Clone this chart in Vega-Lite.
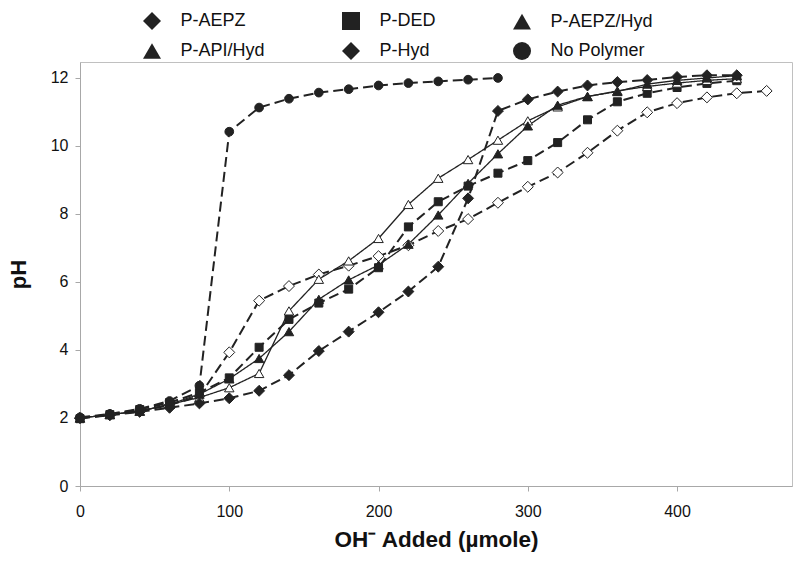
{
  "$schema": "https://vega.github.io/schema/vega-lite/v6.json",
  "width": 712,
  "height": 424,
  "autosize": {"type": "none"},
  "padding": {"left": 80, "top": 62, "right": 8, "bottom": 78},
  "background": "white",
  "config": {
    "font": "Liberation Sans",
    "view": {"stroke": "#c0c0c0", "strokeWidth": 1}
  },
  "datasets": {
    "titration": [
      {"series": "P-AEPZ", "oh": 0, "ph": 2.0}, {"series": "P-AEPZ", "oh": 20, "ph": 2.1}, {"series": "P-AEPZ", "oh": 40, "ph": 2.2}, {"series": "P-AEPZ", "oh": 60, "ph": 2.38}, {"series": "P-AEPZ", "oh": 80, "ph": 2.65}, {"series": "P-AEPZ", "oh": 100, "ph": 3.93}, {"series": "P-AEPZ", "oh": 120, "ph": 5.45}, {"series": "P-AEPZ", "oh": 140, "ph": 5.88}, {"series": "P-AEPZ", "oh": 160, "ph": 6.22}, {"series": "P-AEPZ", "oh": 180, "ph": 6.48}, {"series": "P-AEPZ", "oh": 200, "ph": 6.76}, {"series": "P-AEPZ", "oh": 220, "ph": 7.08}, {"series": "P-AEPZ", "oh": 240, "ph": 7.5}, {"series": "P-AEPZ", "oh": 260, "ph": 7.85}, {"series": "P-AEPZ", "oh": 280, "ph": 8.33}, {"series": "P-AEPZ", "oh": 300, "ph": 8.8}, {"series": "P-AEPZ", "oh": 320, "ph": 9.22}, {"series": "P-AEPZ", "oh": 340, "ph": 9.8}, {"series": "P-AEPZ", "oh": 360, "ph": 10.45}, {"series": "P-AEPZ", "oh": 380, "ph": 10.99}, {"series": "P-AEPZ", "oh": 400, "ph": 11.26}, {"series": "P-AEPZ", "oh": 420, "ph": 11.43}, {"series": "P-AEPZ", "oh": 440, "ph": 11.55}, {"series": "P-AEPZ", "oh": 460, "ph": 11.62},
      {"series": "P-DED", "oh": 0, "ph": 1.98}, {"series": "P-DED", "oh": 20, "ph": 2.1}, {"series": "P-DED", "oh": 40, "ph": 2.25}, {"series": "P-DED", "oh": 60, "ph": 2.45}, {"series": "P-DED", "oh": 80, "ph": 2.75}, {"series": "P-DED", "oh": 100, "ph": 3.18}, {"series": "P-DED", "oh": 120, "ph": 4.08}, {"series": "P-DED", "oh": 140, "ph": 4.9}, {"series": "P-DED", "oh": 160, "ph": 5.38}, {"series": "P-DED", "oh": 180, "ph": 5.79}, {"series": "P-DED", "oh": 200, "ph": 6.42}, {"series": "P-DED", "oh": 220, "ph": 7.62}, {"series": "P-DED", "oh": 240, "ph": 8.36}, {"series": "P-DED", "oh": 260, "ph": 8.82}, {"series": "P-DED", "oh": 280, "ph": 9.2}, {"series": "P-DED", "oh": 300, "ph": 9.57}, {"series": "P-DED", "oh": 320, "ph": 10.1}, {"series": "P-DED", "oh": 340, "ph": 10.77}, {"series": "P-DED", "oh": 360, "ph": 11.3}, {"series": "P-DED", "oh": 380, "ph": 11.55}, {"series": "P-DED", "oh": 400, "ph": 11.72}, {"series": "P-DED", "oh": 420, "ph": 11.84}, {"series": "P-DED", "oh": 440, "ph": 11.92},
      {"series": "P-AEPZ/Hyd", "oh": 0, "ph": 2.0}, {"series": "P-AEPZ/Hyd", "oh": 20, "ph": 2.1}, {"series": "P-AEPZ/Hyd", "oh": 40, "ph": 2.2}, {"series": "P-AEPZ/Hyd", "oh": 60, "ph": 2.4}, {"series": "P-AEPZ/Hyd", "oh": 80, "ph": 2.6}, {"series": "P-AEPZ/Hyd", "oh": 100, "ph": 2.89}, {"series": "P-AEPZ/Hyd", "oh": 120, "ph": 3.31}, {"series": "P-AEPZ/Hyd", "oh": 140, "ph": 5.15}, {"series": "P-AEPZ/Hyd", "oh": 160, "ph": 6.08}, {"series": "P-AEPZ/Hyd", "oh": 180, "ph": 6.62}, {"series": "P-AEPZ/Hyd", "oh": 200, "ph": 7.28}, {"series": "P-AEPZ/Hyd", "oh": 220, "ph": 8.28}, {"series": "P-AEPZ/Hyd", "oh": 240, "ph": 9.05}, {"series": "P-AEPZ/Hyd", "oh": 260, "ph": 9.6}, {"series": "P-AEPZ/Hyd", "oh": 280, "ph": 10.17}, {"series": "P-AEPZ/Hyd", "oh": 300, "ph": 10.74}, {"series": "P-AEPZ/Hyd", "oh": 320, "ph": 11.15}, {"series": "P-AEPZ/Hyd", "oh": 340, "ph": 11.45}, {"series": "P-AEPZ/Hyd", "oh": 360, "ph": 11.62}, {"series": "P-AEPZ/Hyd", "oh": 380, "ph": 11.75}, {"series": "P-AEPZ/Hyd", "oh": 400, "ph": 11.85}, {"series": "P-AEPZ/Hyd", "oh": 420, "ph": 11.93}, {"series": "P-AEPZ/Hyd", "oh": 440, "ph": 11.98},
      {"series": "P-API/Hyd", "oh": 0, "ph": 2.0}, {"series": "P-API/Hyd", "oh": 20, "ph": 2.1}, {"series": "P-API/Hyd", "oh": 40, "ph": 2.2}, {"series": "P-API/Hyd", "oh": 60, "ph": 2.4}, {"series": "P-API/Hyd", "oh": 80, "ph": 2.7}, {"series": "P-API/Hyd", "oh": 100, "ph": 3.15}, {"series": "P-API/Hyd", "oh": 120, "ph": 3.75}, {"series": "P-API/Hyd", "oh": 140, "ph": 4.54}, {"series": "P-API/Hyd", "oh": 160, "ph": 5.49}, {"series": "P-API/Hyd", "oh": 180, "ph": 6.06}, {"series": "P-API/Hyd", "oh": 200, "ph": 6.5}, {"series": "P-API/Hyd", "oh": 220, "ph": 7.11}, {"series": "P-API/Hyd", "oh": 240, "ph": 7.97}, {"series": "P-API/Hyd", "oh": 260, "ph": 8.9}, {"series": "P-API/Hyd", "oh": 280, "ph": 9.77}, {"series": "P-API/Hyd", "oh": 300, "ph": 10.59}, {"series": "P-API/Hyd", "oh": 320, "ph": 11.2}, {"series": "P-API/Hyd", "oh": 340, "ph": 11.46}, {"series": "P-API/Hyd", "oh": 360, "ph": 11.6}, {"series": "P-API/Hyd", "oh": 380, "ph": 11.82}, {"series": "P-API/Hyd", "oh": 400, "ph": 11.93}, {"series": "P-API/Hyd", "oh": 420, "ph": 12.0}, {"series": "P-API/Hyd", "oh": 440, "ph": 12.07},
      {"series": "P-Hyd", "oh": 0, "ph": 2.0}, {"series": "P-Hyd", "oh": 20, "ph": 2.08}, {"series": "P-Hyd", "oh": 40, "ph": 2.18}, {"series": "P-Hyd", "oh": 60, "ph": 2.3}, {"series": "P-Hyd", "oh": 80, "ph": 2.43}, {"series": "P-Hyd", "oh": 100, "ph": 2.58}, {"series": "P-Hyd", "oh": 120, "ph": 2.8}, {"series": "P-Hyd", "oh": 140, "ph": 3.26}, {"series": "P-Hyd", "oh": 160, "ph": 3.97}, {"series": "P-Hyd", "oh": 180, "ph": 4.54}, {"series": "P-Hyd", "oh": 200, "ph": 5.11}, {"series": "P-Hyd", "oh": 220, "ph": 5.72}, {"series": "P-Hyd", "oh": 240, "ph": 6.45}, {"series": "P-Hyd", "oh": 260, "ph": 8.46}, {"series": "P-Hyd", "oh": 280, "ph": 11.03}, {"series": "P-Hyd", "oh": 300, "ph": 11.37}, {"series": "P-Hyd", "oh": 320, "ph": 11.6}, {"series": "P-Hyd", "oh": 340, "ph": 11.78}, {"series": "P-Hyd", "oh": 360, "ph": 11.88}, {"series": "P-Hyd", "oh": 380, "ph": 11.94}, {"series": "P-Hyd", "oh": 400, "ph": 12.03}, {"series": "P-Hyd", "oh": 420, "ph": 12.08}, {"series": "P-Hyd", "oh": 440, "ph": 12.08},
      {"series": "No Polymer", "oh": 0, "ph": 2.02}, {"series": "No Polymer", "oh": 20, "ph": 2.12}, {"series": "No Polymer", "oh": 40, "ph": 2.27}, {"series": "No Polymer", "oh": 60, "ph": 2.5}, {"series": "No Polymer", "oh": 80, "ph": 2.95}, {"series": "No Polymer", "oh": 100, "ph": 10.42}, {"series": "No Polymer", "oh": 120, "ph": 11.13}, {"series": "No Polymer", "oh": 140, "ph": 11.39}, {"series": "No Polymer", "oh": 160, "ph": 11.57}, {"series": "No Polymer", "oh": 180, "ph": 11.67}, {"series": "No Polymer", "oh": 200, "ph": 11.78}, {"series": "No Polymer", "oh": 220, "ph": 11.85}, {"series": "No Polymer", "oh": 240, "ph": 11.9}, {"series": "No Polymer", "oh": 260, "ph": 11.95}, {"series": "No Polymer", "oh": 280, "ph": 12.0}
    ]
  },
  "data": {"name": "titration"},
  "encoding": {
    "x": {
      "field": "oh", "type": "quantitative",
      "scale": {"domain": [0, 477], "nice": false, "zero": false},
      "axis": {
        "values": [0, 100, 200, 300, 400],
        "title": "OH⁻ Added (µmole)",
        "grid": false,
        "domainColor": "#a8a8a8", "tickColor": "#a8a8a8", "tickSize": 5,
        "labelFontSize": 16, "labelColor": "#111", "labelPadding": 12, "labelFlush": false,
        "titleFontSize": 22.5, "titleFontWeight": "bold", "titleColor": "#111", "titlePadding": 9
      }
    },
    "y": {
      "field": "ph", "type": "quantitative",
      "scale": {"domain": [0, 12.47], "nice": false},
      "axis": {
        "values": [0, 2, 4, 6, 8, 10, 12],
        "title": "pH",
        "grid": false,
        "domainColor": "#a8a8a8", "tickColor": "#a8a8a8", "tickSize": 5,
        "labelFontSize": 16, "labelColor": "#111", "labelPadding": 7, "labelFlush": false,
        "titleFontSize": 22, "titleFontWeight": "bold", "titleColor": "#111", "titlePadding": 20
      }
    }
  },
  "layer": [
    {
      "mark": {"type": "line", "color": "#222"},
      "encoding": {
        "detail": {"field": "series", "type": "nominal"},
        "order": {"field": "oh", "type": "quantitative"},
        "strokeDash": {
          "condition": {"test": "datum.series === 'P-AEPZ/Hyd' || datum.series === 'P-API/Hyd'", "value": [1, 0]},
          "value": [10, 5]
        },
        "strokeWidth": {
          "condition": {"test": "datum.series === 'P-AEPZ/Hyd' || datum.series === 'P-API/Hyd'", "value": 1.3},
          "value": 2
        }
      }
    },
    {
      "mark": {"type": "point", "filled": true, "stroke": "#222", "strokeWidth": 1, "opacity": 1},
      "encoding": {
        "fill": {
          "condition": {"test": "datum.series === 'P-AEPZ' || datum.series === 'P-AEPZ/Hyd'", "value": "#ffffff"},
          "value": "#222222"
        },
        "size": {
          "condition": [
            {"test": "datum.series === 'P-AEPZ' || datum.series === 'P-Hyd'", "value": 120},
            {"test": "datum.series === 'P-DED'", "value": 64},
            {"test": "datum.series === 'No Polymer'", "value": 76}
          ],
          "value": 90
        },
        "shape": {
          "field": "series", "type": "nominal",
          "scale": {"domain": ["P-AEPZ", "P-DED", "P-AEPZ/Hyd", "P-API/Hyd", "P-Hyd", "No Polymer"], "range": ["diamond", "square", "triangle-up", "triangle-up", "diamond", "circle"]},
          "legend": {
            "title": null,
            "orient": "none",
            "legendX": 62,
            "legendY": -51,
            "direction": "horizontal",
            "columns": 3,
            "columnPadding": 74,
            "rowPadding": 6,
            "symbolSize": 324,
            "symbolStrokeWidth": 1.5,
            "symbolStrokeColor": "#222",
            "labelFontSize": 18,
            "labelColor": "#111",
            "labelOffset": 18.5,
            "labelFont": "Liberation Sans",
            "labelExpr": "datum.label === 'P-DED' ? datum.label + '\u00a0\u00a0\u00a0\u00a0\u00a0\u00a0\u00a0\u00a0\u00a0\u00a0\u00a0\u00a0\u00a0\u00a0\u00a0\u00a0\u00a0\u00a0' : datum.label",
            "encode": {
              "symbols": {
                "shape": {
                  "condition": [
                    {"test": "datum.value === 'P-AEPZ' || datum.value === 'P-Hyd'", "value": "M-2.33,0H-0.47M0.47,0H1.22M2.1,0H2.33M-0.47,0L0,-0.47L0.47,0L0,0.47Z"},
                    {"test": "datum.value === 'P-DED'", "value": "M-2.33,0H-0.4M0.4,0H1.22M2.1,0H2.33M-0.4,-0.4H0.4V0.4H-0.4Z"},
                    {"test": "datum.value === 'P-AEPZ/Hyd'", "value": "M-2.33,0H-0.47M0.47,0H2.33M-0.47,0.38L0,-0.45L0.47,0.38Z"},
                    {"test": "datum.value === 'P-API/Hyd'", "value": "M-2.33,0H2.33M-0.47,0.38L0,-0.45L0.47,0.38Z"}
                  ],
                  "value": "M-2.33,0H-0.42M0.42,0H1.22M2.1,0H2.33M-0.42,0A0.42,0.42 0 1,0 0.42,0A0.42,0.42 0 1,0 -0.42,0Z"
                },
                "fill": {
                  "condition": {"test": "datum.value === 'P-AEPZ' || datum.value === 'P-AEPZ/Hyd'", "value": "#ffffff"},
                  "value": "#222222"
                },
                "stroke": {"value": "#222222"},
                "strokeWidth": {"value": 1.5},
                "opacity": {"value": 1}
              }
            }
          }
        }
      }
    }
  ]
}
